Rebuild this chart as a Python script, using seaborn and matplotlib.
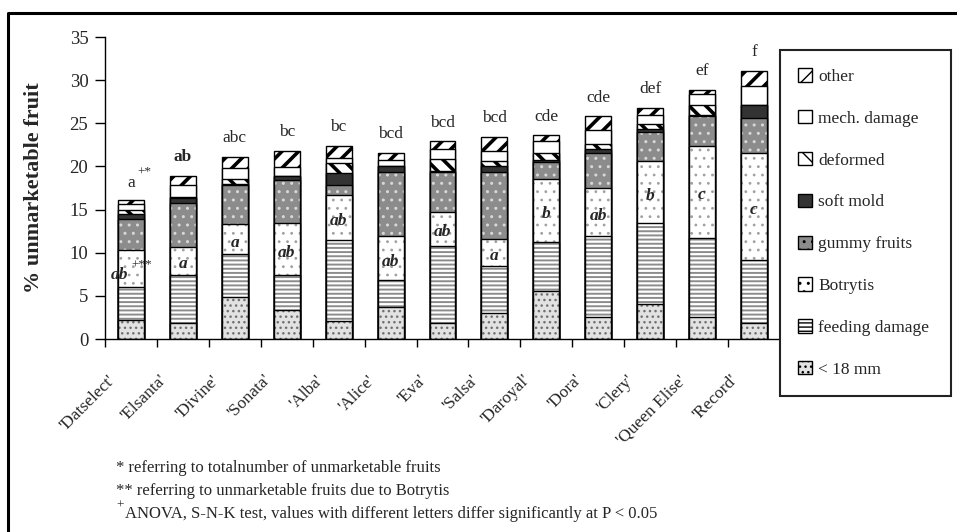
import numpy as np
import seaborn as sns
import matplotlib.pyplot as plt
import matplotlib.transforms as mtransforms
from matplotlib.patches import Patch
from matplotlib.lines import Line2D

# data (% unmarketable fruit)
varieties = ["'Datselect'", "'Elsanta'", "'Divine'", "'Sonata'", "'Alba'", "'Alice'", "'Eva'",
             "'Salsa'", "'Daroyal'", "'Dora'", "'Clery'", "'Queen Elise'", "'Record'"]
under_18mm = [2.2, 1.8, 4.9, 3.4, 2.1, 3.7, 1.9, 3.0, 5.6, 2.5, 4.1, 2.5, 1.9]
feeding_damage = [3.8, 5.6, 4.9, 4.0, 9.4, 3.1, 8.9, 5.5, 5.6, 9.4, 9.3, 9.2, 7.2]
botrytis = [4.3, 3.3, 3.5, 6.0, 5.2, 5.1, 3.9, 3.1, 7.3, 5.6, 7.2, 10.7, 12.5]
gummy_fruits = [3.6, 5.1, 4.5, 5.0, 1.1, 7.5, 4.6, 7.7, 2.0, 4.1, 3.4, 3.4, 4.0]
soft_mold = [0.6, 0.5, 0.2, 0.5, 1.4, 0.6, 0.2, 0.7, 0.2, 0.4, 0.3, 0.2, 1.5]
deformed = [0.5, 0.2, 0.5, 0.0, 1.2, 0.0, 1.4, 0.6, 0.9, 0.6, 0.6, 1.1, 0.0]
mech_damage = [0.7, 1.3, 1.3, 1.0, 0.6, 0.8, 1.1, 1.2, 1.3, 1.6, 1.1, 1.3, 2.2]
other = [0.4, 1.1, 1.3, 1.9, 1.4, 0.8, 0.9, 1.6, 0.7, 1.6, 0.8, 0.5, 1.8]

total_letters = ["a", "ab", "abc", "bc", "bc", "bcd", "bcd", "bcd", "cde", "cde", "def", "ef", "f"]
botrytis_letters = ["ab", "a", "a", "ab", "ab", "ab", "ab", "a", "b", "ab", "b", "c", "c"]

layers = [under_18mm, feeding_damage, botrytis, gummy_fruits, soft_mold, deformed, mech_damage, other]
layer_names = ["< 18 mm", "feeding damage", "Botrytis", "gummy fruits", "soft mold", "deformed",
               "mech. damage", "other"]
# face colour, hatch, hatch colour, hatch width
styles = [("#e2e2e2", "...", "#707070", 1.0),
          ("white", "----", "#8c8c8c", 1.4),
          ("white", "..", "#a0a0a0", 0.8),
          ("#8c8c8c", "..", "#d8d8d8", 1.0),
          ("#333333", "", "#333333", 1.0),
          ("white", "\\\\", "black", 2.6),
          ("white", "", "white", 1.0),
          ("white", "//", "black", 2.6)]

sns.set_style("white")
plt.rcParams["font.family"] = ["Liberation Serif", "DejaVu Serif"]

fig = plt.figure(figsize=(9.57, 5.32), dpi=100)
ax = fig.add_axes([105 / 957, 1 - 339 / 532, 675 / 957, 302 / 532])

cum = np.cumsum(np.array(layers), axis=0)
# stacked bars: draw cumulative heights from the top layer down
for k in range(len(layers) - 1, -1, -1):
    face, hatch, hcol, hlw = styles[k]
    n0 = len(ax.patches)
    sns.barplot(x=varieties, y=cum[k], order=varieties, color=face, saturation=1, width=0.5,
                hatch=hatch, edgecolor=hcol, linewidth=0, errorbar=None, ax=ax)
    for p in ax.patches[n0:]:
        p.set_facecolor(face)
        if hasattr(p, "set_hatch_linewidth"):
            p.set_hatch_linewidth(hlw)
    sns.barplot(x=varieties, y=cum[k], order=varieties, color="black", fill=False, width=0.5,
                linewidth=1, errorbar=None, ax=ax)

totals = cum[-1]
for i, lab in enumerate(total_letters):
    if i == 0:
        ax.text(i, totals[i] + 1.5, lab, ha="center", va="baseline", fontsize=12.5)
        ax.text(i + 0.12, totals[i] + 3.0, "+*", ha="left", va="baseline", fontsize=9.5)
    else:
        ax.text(i, totals[i] + 1.7, lab, ha="center", va="baseline", fontsize=12.5,
                fontweight="bold" if i == 1 else "normal")

for i, lab in enumerate(botrytis_letters):
    ymid = cum[1][i] + botrytis[i] / 2 - 0.4
    if i == 0:
        ax.text(i - 0.05, ymid - 0.3, lab, ha="right", va="center", fontsize=12.5,
                fontweight="bold", fontstyle="italic")
        ax.text(i + 0.0, ymid + 0.9, "+**", ha="left", va="center", fontsize=9.5)
    else:
        ax.text(i, ymid, lab, ha="center", va="center", fontsize=12.5,
                fontweight="bold", fontstyle="italic")

ax.set_ylim(0, 35)
ax.set_xlim(-0.5, len(varieties) - 0.5)
ax.set_yticks(range(0, 36, 5))
ax.tick_params(axis="y", length=7, width=1, labelsize=13.5, pad=5, left=True, color="black")
ax.set_xticks(np.arange(-0.5, len(varieties), 1), minor=True)
ax.tick_params(axis="x", which="minor", length=6, width=1, direction="out", bottom=True, color="black")
ax.tick_params(axis="x", which="major", length=0, pad=0, labelsize=12.5)
ax.set_xticks(range(len(varieties)))
ax.set_xticklabels(varieties, rotation=45, ha="right", va="top", rotation_mode="anchor")
offset = mtransforms.ScaledTranslation(-24 / 100, -33 / 100, fig.dpi_scale_trans)
for t in ax.get_xticklabels():
    t.set_transform(t.get_transform() + offset)
ax.set_xlabel("")
ax.set_ylabel("% unmarketable fruit", fontsize=16, fontweight="bold")
ax.yaxis.set_label_coords(-61 / 675, 0.5)

for s in ["top", "right"]:
    ax.spines[s].set_visible(False)
for s in ["left", "bottom"]:
    ax.spines[s].set_color("black")
    ax.spines[s].set_linewidth(1)

handles = [Patch(facecolor=styles[k][0], edgecolor="black", hatch=styles[k][1], linewidth=1)
           for k in range(len(layers) - 1, -1, -1)]
labels = layer_names[::-1]
leg = fig.legend(handles, labels, loc="upper left",
                 bbox_to_anchor=(780 / 957, 1 - 396 / 532, 171 / 957, 346 / 532), mode="expand",
                 borderaxespad=0, frameon=True, fancybox=False, edgecolor="#222222", framealpha=1,
                 labelspacing=1.45, handlelength=0.8, handleheight=0.8, handletextpad=0.35,
                 borderpad=1.05, fontsize=12.5)
leg.get_frame().set_linewidth(1.5)

# footnotes
fig.text(116 / 957, 1 - 468 / 532, "* referring to totalnumber of unmarketable fruits",
         fontsize=12, va="center")
fig.text(116 / 957, 1 - 491 / 532, "** referring to unmarketable fruits due to Botrytis",
         fontsize=12, va="center")
fig.text(116 / 957, 1 - 506 / 532, "+", fontsize=9.5, va="center")
fig.text(125 / 957, 1 - 514 / 532,
         "ANOVA, S-N-K test, values with different letters differ significantly at P < 0.05",
         fontsize=12, va="center")

# outer frame (top and left edges)
fig.add_artist(Line2D([8 / 957, 8 / 957, 1.0], [0.0, 1 - 13 / 532, 1 - 13 / 532],
                      transform=fig.transFigure, color="black", linewidth=2.2))

fig.savefig("out.png", dpi=100)
